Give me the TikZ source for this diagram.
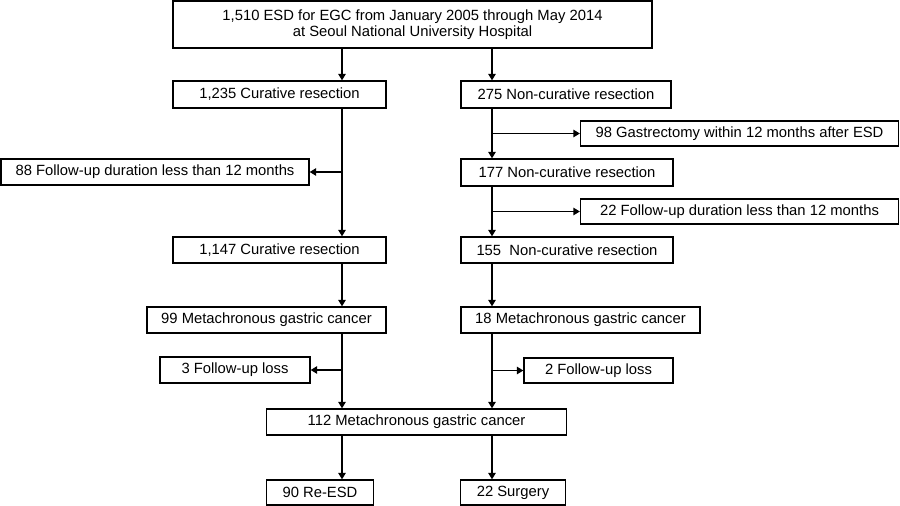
\documentclass[tikz,border=0pt]{standalone}
\usepackage{fontspec}
\setmainfont{Liberation Sans}
\usetikzlibrary{arrows.meta}
\begin{document}
\begin{tikzpicture}[x=1pt,y=-1pt,
  box/.style={draw=black,line width=1.3pt,inner sep=0pt,rectangle,align=center,
    font=\fontsize{14.8pt}{16.5pt}\selectfont},
  arr/.style={line width=1.3pt,-{Triangle[width=7.5pt,length=6.5pt]}},
  ln/.style={line width=1.3pt}]
\useasboundingbox (0,0) rectangle (900,506);
\fill[white] (0,0) rectangle (900,506);
\coordinate (L) at (342,0);
\coordinate (R) at (492,0);
% boxes
\node[box,minimum width=479pt,minimum height=47pt] (top) at (412.5,24.5)
  {1,510 ESD for EGC from January 2005 through May 2014\\at Seoul National University Hospital};
\node[box,minimum width=213pt,minimum height=27pt] (cur1) at (279.5,94.5) {1,235 Curative resection};
\node[box,minimum width=210pt,minimum height=27pt] (nc1) at (566,94.5) {275 Non-curative resection};
\node[box,minimum width=318pt,minimum height=25pt] (gast) at (739.5,133.5) {98 Gastrectomy within 12 months after ESD};
\node[box,minimum width=308pt,minimum height=26pt] (fu88) at (155,172) {88 Follow-up duration less than 12 months};
\node[box,minimum width=212pt,minimum height=27pt] (nc2) at (567,172.5) {177 Non-curative resection};
\node[box,minimum width=318pt,minimum height=25pt] (fu22) at (739.5,211.5) {22 Follow-up duration less than 12 months};
\node[box,minimum width=213pt,minimum height=26pt] (cur2) at (279.5,250) {1,147 Curative resection};
\node[box,minimum width=212pt,minimum height=26pt] (nc3) at (567,250) {155~ Non-curative resection};
\node[box,minimum width=239pt,minimum height=26pt] (m99) at (266.5,320) {99 Metachronous gastric cancer};
\node[box,minimum width=239pt,minimum height=26pt] (m18) at (580.5,320) {18 Metachronous gastric cancer};
\node[box,minimum width=150pt,minimum height=26pt] (fl3) at (235,370) {3 Follow-up loss};
\node[box,minimum width=149pt,minimum height=25pt] (fl2) at (598.5,370.5) {2 Follow-up loss};
\node[box,minimum width=300pt,minimum height=26pt] (m112) at (416.5,422) {112 Metachronous gastric cancer};
\node[box,minimum width=107pt,minimum height=25pt] (reesd) at (320,492.5) {90 Re-ESD};
\node[box,minimum width=105pt,minimum height=25pt] (surg) at (513,492.5) {22 Surgery};
% left column
\draw[arr] (top.south -| L) -- (cur1.north -| L);
\draw[arr] (cur1.south -| L) -- (cur2.north -| L);
\draw[arr] (fu88.east -| L) -- (fu88.east);
\draw[arr] (cur2.south -| L) -- (m99.north -| L);
\draw[arr] (m99.south -| L) -- (m112.north -| L);
\draw[arr] (fl3.east -| L) -- (fl3.east);
\draw[arr] (m112.south -| L) -- (reesd.north -| L);
% right column
\draw[arr] (top.south -| R) -- (nc1.north -| R);
\draw[arr] (nc1.south -| R) -- (nc2.north -| R);
\draw[arr] (gast.west -| R) -- (gast.west);
\draw[arr] (nc2.south -| R) -- (nc3.north -| R);
\draw[arr] (fu22.west -| R) -- (fu22.west);
\draw[arr] (nc3.south -| R) -- (m18.north -| R);
\draw[arr] (m18.south -| R) -- (m112.north -| R);
\draw[arr] (fl2.west -| R) -- (fl2.west);
\draw[arr] (m112.south -| R) -- (surg.north -| R);
\end{tikzpicture}
\end{document}
